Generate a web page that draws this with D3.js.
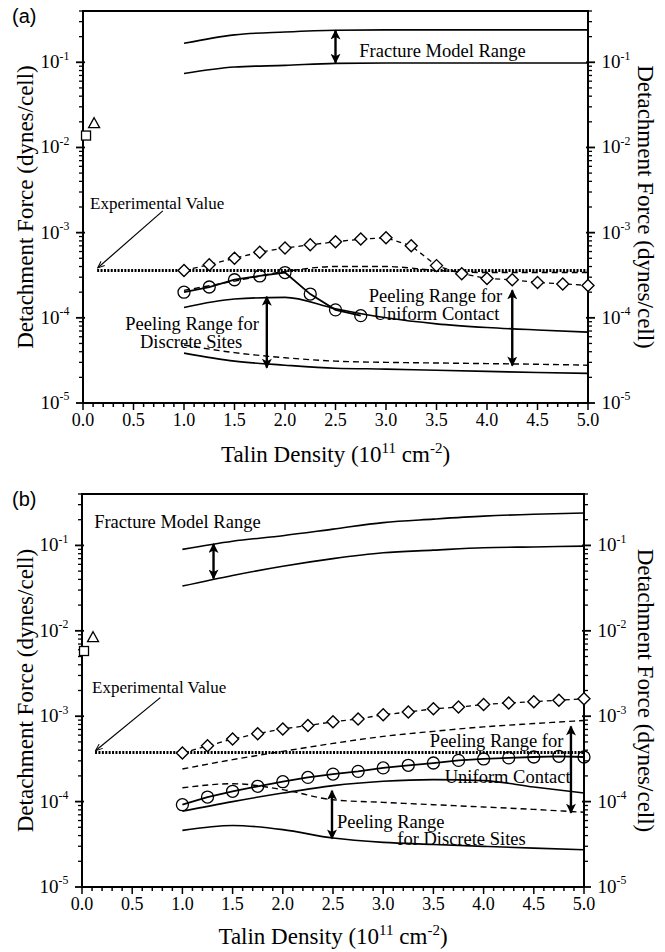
<!DOCTYPE html>
<html>
<head>
<meta charset="utf-8">
<script src="https://cdn.jsdelivr.net/npm/d3@7"></script>
<style>
  body { margin: 0; background: #fff; }
  svg { display: block; }
</style>
</head>
<body>
<svg id="fig" width="665" height="952" font-family="'Liberation Serif', 'DejaVu Serif', serif"></svg>
<script>
// ---- data ----
var talin = [1.0, 1.25, 1.5, 1.75, 2.0, 2.25, 2.5, 2.75, 3.0, 3.25, 3.5, 3.75, 4.0, 4.25, 4.5, 4.75, 5.0];
var modelX = [1.0, 1.5, 2.0, 2.5, 3.0, 3.5, 4.0, 4.5, 5.0];
var xTicks = [0.0, 0.5, 1.0, 1.5, 2.0, 2.5, 3.0, 3.5, 4.0, 4.5, 5.0];
var yDecades = [1e-5, 1e-4, 1e-3, 1e-2, 1e-1];
var yExponents = ['-5', '-4', '-3', '-2', '-1'];

// panel (a)
var fracUpperA = [0.167, 0.21, 0.227, 0.238, 0.24, 0.24, 0.24, 0.24, 0.24];
var fracLowerA = [0.074, 0.088, 0.092, 0.097, 0.098, 0.098, 0.098, 0.098, 0.098];
var diamondsA = [3.6e-4, 4.2e-4, 5.0e-4, 5.9e-4, 6.6e-4, 7.2e-4, 7.8e-4, 8.4e-4, 8.7e-4, 7.0e-4, 4.1e-4, 3.3e-4, 2.9e-4, 2.8e-4, 2.6e-4, 2.5e-4, 2.4e-4];
var circlesA = [2.0e-4, 2.3e-4, 2.8e-4, 3.1e-4, 3.4e-4, 1.9e-4, 1.24e-4, 1.06e-4];
var dashUpperA = [2.1e-4, 2.7e-4, 3.5e-4, 4.0e-4, 4.0e-4, 3.6e-4, 3.4e-4, 3.4e-4, 3.4e-4];
var solidUpperA = [1.32e-4, 1.66e-4, 1.74e-4, 1.28e-4, 1.0e-4, 8.5e-5, 7.7e-5, 7.2e-5, 6.8e-5];
var dashLowerA = [4.8e-5, 3.9e-5, 3.4e-5, 3.1e-5, 3.0e-5, 2.95e-5, 2.9e-5, 2.85e-5, 2.78e-5];
var solidLowerA = [3.85e-5, 3.1e-5, 2.78e-5, 2.56e-5, 2.5e-5, 2.42e-5, 2.35e-5, 2.28e-5, 2.23e-5];
var expA = 3.6e-4;
var squareA = [0.03, 0.0138];
var triangleA = [0.11, 0.019];

// panel (b)
var fracUpperB = [0.0898, 0.112, 0.13, 0.155, 0.185, 0.203, 0.22, 0.232, 0.24];
var fracLowerB = [0.0334, 0.0445, 0.057, 0.07, 0.082, 0.088, 0.094, 0.096, 0.098];
var diamondsB = [3.7e-4, 4.5e-4, 5.4e-4, 6.25e-4, 7.1e-4, 7.8e-4, 8.6e-4, 9.3e-4, 1.04e-3, 1.12e-3, 1.22e-3, 1.28e-3, 1.37e-3, 1.43e-3, 1.48e-3, 1.54e-3, 1.6e-3];
var circlesB = [9.2e-5, 1.13e-4, 1.32e-4, 1.51e-4, 1.71e-4, 1.92e-4, 2.1e-4, 2.26e-4, 2.48e-4, 2.66e-4, 2.83e-4, 3.04e-4, 3.16e-4, 3.25e-4, 3.33e-4, 3.39e-4, 3.33e-4];
var dashUpperB = [2.41e-4, 3.1e-4, 3.88e-4, 4.8e-4, 5.8e-4, 6.65e-4, 7.5e-4, 8.2e-4, 8.9e-4];
var dashMidB = [1.45e-4, 1.62e-4, 1.38e-4, 1.05e-4, 9.8e-5, 9.2e-5, 8.65e-5, 8.1e-5, 7.5e-5];
var solidMidB = [7.7e-5, 1.0e-4, 1.26e-4, 1.54e-4, 1.73e-4, 1.81e-4, 1.76e-4, 1.48e-4, 1.26e-4];
var solidLowerB = [4.6e-5, 5.26e-5, 4.7e-5, 3.74e-5, 3.33e-5, 3.15e-5, 2.99e-5, 2.85e-5, 2.73e-5];
var expB = 3.75e-4;
var squareB = [0.02, 5.8e-3];
var triangleB = [0.11, 8.3e-3];

var panels = [
  {
    label: '(a)', left: 83, right: 588, top: 11, bottom: 403,
    frac: [fracUpperA, fracLowerA],
    diamonds: diamondsA, circles: circlesA,
    dashed: [dashUpperA, dashLowerA],
    solid: [solidUpperA, solidLowerA],
    exp: expA, expStart: 0.14, square: squareA, triangle: triangleA,
    // double arrows: [x, yTop, yBottom]
    arrows: [[2.5, 0.236, 0.099], [1.82, 1.77e-4, 2.6e-5], [4.25, 2.1e-4, 2.75e-5]],
    expArrow: [0.79, 1.8e-3, 0.15, 3.9e-4],
    texts: [
      ['Fracture Model Range', 3.56, 0.138, 'middle'],
      ['Peeling Range for', 3.49, 1.82e-4, 'middle'],
      ['Uniform Contact', 3.5, 1.11e-4, 'middle'],
      ['Peeling Range for', 1.08, 8.5e-5, 'middle'],
      ['Discrete Sites', 1.07, 5.2e-5, 'middle'],
      ['Experimental Value', 0.07, 2.25e-3, 'start']
    ],
    xTitleY: 462
  },
  {
    label: '(b)', left: 82, right: 584, top: 494, bottom: 887,
    frac: [fracUpperB, fracLowerB],
    diamonds: diamondsB, circles: circlesB,
    dashed: [dashUpperB, dashMidB],
    solid: [solidMidB, solidLowerB],
    exp: expB, expStart: 0.13, square: squareB, triangle: triangleB,
    arrows: [[1.31, 0.104, 0.041], [2.49, 1.34e-4, 3.7e-5], [4.87, 7.6e-4, 7.4e-5]],
    expArrow: [0.78, 1.65e-3, 0.14, 4.0e-4],
    texts: [
      ['Fracture Model Range', 0.95, 0.191, 'middle'],
      ['Peeling Range for', 4.13, 5.18e-4, 'middle'],
      ['Uniform Contact', 4.24, 1.96e-4, 'middle'],
      ['Peeling Range', 2.54, 5.8e-5, 'start'],
      ['for Discrete Sites', 3.14, 3.67e-5, 'start'],
      ['Experimental Value', 0.10, 2.22e-3, 'start']
    ],
    xTitleY: 944
  }
];

var svg = d3.select('#fig');

var defs = svg.append('defs');
defs.append('marker')
  .attr('id', 'head')
  .attr('viewBox', '0 0 10 10')
  .attr('refX', 9).attr('refY', 5)
  .attr('markerWidth', 12).attr('markerHeight', 10)
  .attr('markerUnits', 'userSpaceOnUse')
  .attr('orient', 'auto-start-reverse')
  .append('path')
  .attr('d', 'M0,0 L10,5 L0,10 L2.5,5 Z')
  .attr('fill', '#000');
defs.append('marker')
  .attr('id', 'thinhead')
  .attr('viewBox', '0 0 10 10')
  .attr('refX', 9).attr('refY', 5)
  .attr('markerWidth', 8).attr('markerHeight', 7)
  .attr('markerUnits', 'userSpaceOnUse')
  .attr('orient', 'auto')
  .append('path')
  .attr('d', 'M0,1 L10,5 L0,9')
  .attr('fill', 'none')
  .attr('stroke', '#000')
  .attr('stroke-width', 1.4);

function powLabel(sel, exp, size) {
  sel.append('tspan').text('10');
  sel.append('tspan')
    .attr('dy', -size * 0.45)
    .attr('font-size', size * 0.62)
    .text(exp);
}

panels.forEach(function(p) {
  var x = d3.scaleLinear().domain([0, 5]).range([p.left, p.right]);
  var y = d3.scaleLog().domain([1e-5, 0.4]).range([p.bottom, p.top]);
  var g = svg.append('g');

  // frame
  g.append('rect')
    .attr('x', p.left).attr('y', p.top)
    .attr('width', p.right - p.left).attr('height', p.bottom - p.top)
    .attr('fill', 'none').attr('stroke', '#000').attr('stroke-width', 2);

  // x ticks (outward)
  var xMinor = d3.range(0, 50.5, 1).map(function(d) { return d / 10; });
  g.selectAll('.xmin').data(xMinor).enter().append('line')
    .attr('x1', function(d) { return x(d); }).attr('x2', function(d) { return x(d); })
    .attr('y1', p.bottom).attr('y2', function(d, i) { return p.bottom + (i % 5 === 0 ? 7 : 4); })
    .attr('stroke', '#000').attr('stroke-width', 1.5);
  g.selectAll('.xlab').data(xTicks).enter().append('text')
    .attr('x', function(d) { return x(d); })
    .attr('y', p.bottom + 23)
    .attr('text-anchor', 'middle')
    .attr('font-size', 18)
    .text(d3.format('.1f'));

  // y ticks (outward, both sides)
  var yMinor = [];
  yDecades.forEach(function(dec) {
    for (var k = 2; k <= 9; k++) {
      if (dec * k <= 0.4 + 1e-9) yMinor.push(dec * k);
    }
  });
  [[p.left, -1], [p.right, 1]].forEach(function(side) {
    g.selectAll(null).data(yMinor).enter().append('line')
      .attr('x1', side[0]).attr('x2', side[0] + side[1] * 4)
      .attr('y1', function(d) { return y(d); }).attr('y2', function(d) { return y(d); })
      .attr('stroke', '#000').attr('stroke-width', 1.3);
    g.selectAll(null).data(yDecades).enter().append('line')
      .attr('x1', side[0] - side[1] * 2).attr('x2', side[0] + side[1] * 7)
      .attr('y1', function(d) { return y(d); }).attr('y2', function(d) { return y(d); })
      .attr('stroke', '#000').attr('stroke-width', 1.8);
  });
  yDecades.forEach(function(dec, i) {
    var tl = g.append('text')
      .attr('x', p.left - 28).attr('y', y(dec) + 6)
      .attr('text-anchor', 'middle').attr('font-size', 19);
    powLabel(tl, yExponents[i], 19);
    var tr = g.append('text')
      .attr('x', p.right + 28).attr('y', y(dec) + 6)
      .attr('text-anchor', 'middle').attr('font-size', 19);
    powLabel(tr, yExponents[i], 19);
  });

  // axis titles
  var xt = g.append('text')
    .attr('x', (p.left + p.right) / 2).attr('y', p.xTitleY)
    .attr('text-anchor', 'middle').attr('font-size', 23);
  xt.append('tspan').text('Talin Density  (10');
  xt.append('tspan').attr('dy', -9).attr('font-size', 15).text('11');
  xt.append('tspan').attr('dy', 9).text(' cm');
  xt.append('tspan').attr('dy', -9).attr('font-size', 15).text('-2');
  xt.append('tspan').attr('dy', 9).text(')');

  var cy = (p.top + p.bottom) / 2;
  g.append('text')
    .attr('transform', 'translate(33,' + cy + ') rotate(-90)')
    .attr('text-anchor', 'middle').attr('font-size', 23)
    .text('Detachment Force  (dynes/cell)');
  g.append('text')
    .attr('transform', 'translate(638,' + cy + ') rotate(90)')
    .attr('text-anchor', 'middle').attr('font-size', 23)
    .text('Detachment Force  (dynes/cell)');

  // panel label
  g.append('text')
    .attr('x', 12).attr('y', p.top + 12)
    .attr('font-family', "'Liberation Sans', Arial, sans-serif")
    .attr('font-size', 20)
    .text(p.label);

  // model curves
  var curve = d3.line()
    .x(function(d, i) { return x(modelX[i]); })
    .y(function(d) { return y(d); })
    .curve(d3.curveMonotoneX);

  p.frac.concat(p.solid).forEach(function(s) {
    g.append('path').attr('d', curve(s))
      .attr('fill', 'none').attr('stroke', '#000').attr('stroke-width', 1.6);
  });
  p.dashed.forEach(function(s) {
    g.append('path').attr('d', curve(s))
      .attr('fill', 'none').attr('stroke', '#000').attr('stroke-width', 1.4)
      .attr('stroke-dasharray', '6,4');
  });

  // experimental value
  g.append('line')
    .attr('x1', x(p.expStart)).attr('x2', p.right)
    .attr('y1', y(p.exp)).attr('y2', y(p.exp))
    .attr('stroke', '#000').attr('stroke-width', 3)
    .attr('stroke-dasharray', '2,1.4');

  // diamonds series
  var lin = d3.line()
    .x(function(d, i) { return x(talin[i]); })
    .y(function(d) { return y(d); });
  g.append('path').attr('d', lin(p.diamonds))
    .attr('fill', 'none').attr('stroke', '#000').attr('stroke-width', 1.3)
    .attr('stroke-dasharray', '5,4');
  g.selectAll(null).data(p.diamonds).enter().append('path')
    .attr('transform', function(d, i) { return 'translate(' + x(talin[i]) + ',' + y(d) + ')'; })
    .attr('d', 'M0,-6 L6,0 L0,6 L-6,0 Z')
    .attr('fill', '#fff').attr('stroke', '#000').attr('stroke-width', 1.4);

  // circles series
  g.append('path').attr('d', lin(p.circles))
    .attr('fill', 'none').attr('stroke', '#000').attr('stroke-width', 1.8);
  g.selectAll(null).data(p.circles).enter().append('circle')
    .attr('cx', function(d, i) { return x(talin[i]); })
    .attr('cy', function(d) { return y(d); })
    .attr('r', 6)
    .attr('fill', 'none').attr('stroke', '#000').attr('stroke-width', 1.3);

  // square & triangle
  g.append('rect')
    .attr('x', x(p.square[0]) - 4.5).attr('y', y(p.square[1]) - 4.5)
    .attr('width', 9).attr('height', 9)
    .attr('fill', '#fff').attr('stroke', '#000').attr('stroke-width', 1.3);
  g.append('path')
    .attr('transform', 'translate(' + x(p.triangle[0]) + ',' + y(p.triangle[1]) + ')')
    .attr('d', 'M0,-6 L5.5,4 L-5.5,4 Z')
    .attr('fill', '#fff').attr('stroke', '#000').attr('stroke-width', 1.3);

  // double arrows
  p.arrows.forEach(function(a) {
    g.append('line')
      .attr('x1', x(a[0])).attr('x2', x(a[0]))
      .attr('y1', y(a[1])).attr('y2', y(a[2]))
      .attr('stroke', '#000').attr('stroke-width', 2.4)
      .attr('marker-start', 'url(#head)').attr('marker-end', 'url(#head)');
  });
  var ea = p.expArrow;
  g.append('line')
    .attr('x1', x(ea[0])).attr('y1', y(ea[1]))
    .attr('x2', x(ea[2])).attr('y2', y(ea[3]))
    .attr('stroke', '#000').attr('stroke-width', 1.2)
    .attr('marker-end', 'url(#thinhead)');

  // annotations
  p.texts.forEach(function(t) {
    g.append('text')
      .attr('x', x(t[1])).attr('y', y(t[2]))
      .attr('dy', '0.35em')
      .attr('text-anchor', t[3])
      .attr('font-size', t[0] === 'Experimental Value' ? 17 : 18.5)
      .text(t[0]);
  });
});
</script>
</body>
</html>
